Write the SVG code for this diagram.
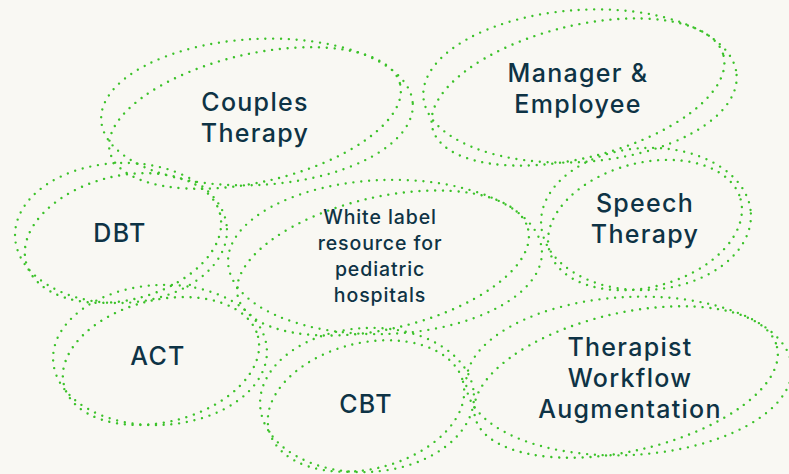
<svg xmlns="http://www.w3.org/2000/svg" width="789" height="474" viewBox="0 0 789 474">
<style>
.bg{fill:#f9f8f3}
.loop{fill:none;stroke:#3cc22a;stroke-width:2.4;stroke-linecap:round;stroke-dasharray:0 7.8}
.t{font-family:Inter,"Open Sans","Liberation Sans",sans-serif;font-weight:500;fill:#0e3345;text-anchor:middle}
.l{font-size:25px;letter-spacing:1.3px}
.s{font-size:19.5px;letter-spacing:0.9px}
</style>
<rect class="bg" width="789" height="474"/>
<g id="node-couples">
<ellipse class="loop" cx="257" cy="112" rx="156" ry="73" transform="rotate(-3 257 112)"/>
<ellipse class="loop" cx="255" cy="118" rx="149" ry="64" transform="rotate(-13 255 118)"/>
<text class="t l" x="255" y="111">Couples</text>
<text class="t l" x="255" y="142">Therapy</text>
</g>
<g id="node-manager">
<ellipse class="loop" cx="580" cy="86" rx="157" ry="76" transform="rotate(-4 580 86)"/>
<ellipse class="loop" cx="578" cy="92" rx="150" ry="66" transform="rotate(-14 578 92)"/>
<text class="t l" x="578" y="82">Manager &amp;</text>
<text class="t l" x="578" y="113">Employee</text>
</g>
<g id="node-dbt">
<ellipse class="loop" cx="121" cy="233" rx="106" ry="70" transform="rotate(-2 121 233)"/>
<ellipse class="loop" cx="123" cy="238" rx="100" ry="62" transform="rotate(-14 123 238)"/>
<text class="t l" x="120" y="242">DBT</text>
</g>
<g id="node-whitelabel">
<ellipse class="loop" cx="385" cy="257" rx="157" ry="77" transform="rotate(-2 385 257)"/>
<ellipse class="loop" cx="383" cy="263" rx="149" ry="66" transform="rotate(-13 383 263)"/>
<text class="t s" x="380" y="224">White label</text>
<text class="t s" x="380" y="250">resource for</text>
<text class="t s" x="380" y="276">pediatric</text>
<text class="t s" x="380" y="302">hospitals</text>
</g>
<g id="node-speech">
<ellipse class="loop" cx="646" cy="219" rx="105" ry="71" transform="rotate(-3 646 219)"/>
<ellipse class="loop" cx="645" cy="225" rx="99" ry="62" transform="rotate(-15 645 225)"/>
<text class="t l" x="645" y="212">Speech</text>
<text class="t l" x="645" y="243">Therapy</text>
</g>
<g id="node-act">
<ellipse class="loop" cx="160" cy="355" rx="107" ry="70" transform="rotate(-3 160 355)"/>
<ellipse class="loop" cx="161" cy="361" rx="100" ry="61" transform="rotate(-14 161 361)"/>
<text class="t l" x="158" y="365">ACT</text>
</g>
<g id="node-cbt">
<ellipse class="loop" cx="367" cy="400" rx="107" ry="72" transform="rotate(-3 367 400)"/>
<ellipse class="loop" cx="366" cy="406" rx="100" ry="63" transform="rotate(-14 366 406)"/>
<text class="t l" x="366" y="413">CBT</text>
</g>
<g id="node-therapist">
<ellipse class="loop" cx="629" cy="376" rx="163" ry="79" transform="rotate(-3 629 376)"/>
<ellipse class="loop" cx="626" cy="382" rx="155" ry="69" transform="rotate(-13 626 382)"/>
<text class="t l" x="630" y="356">Therapist</text>
<text class="t l" x="630" y="387">Workflow</text>
<text class="t l" x="630" y="418">Augmentation</text>
</g>
<g id="connectors"></g>
</svg>
